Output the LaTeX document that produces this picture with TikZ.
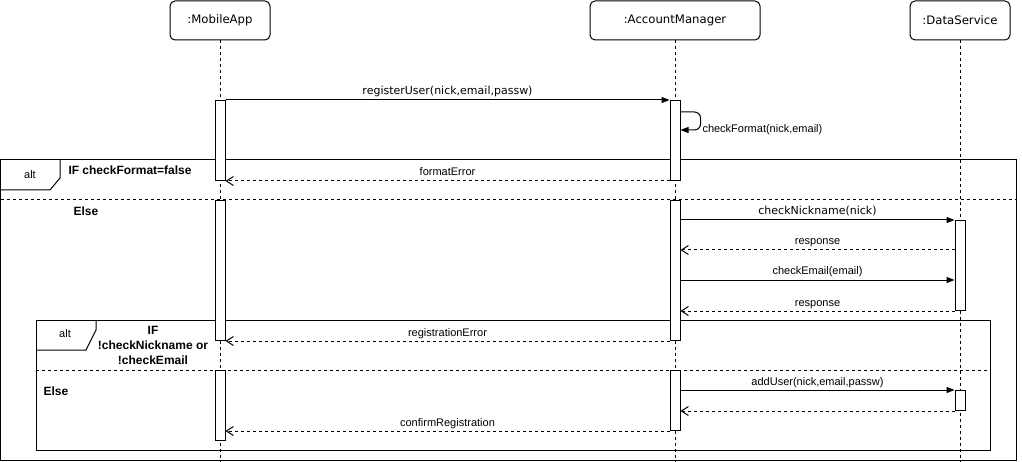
\documentclass[tikz,border=0pt]{standalone}
\usepackage{fontspec}
\setmainfont{Liberation Sans}
\newfontfamily\dejavu{DejaVu Sans}
\usetikzlibrary{arrows.meta}

\tikzset{
    participant/.style={draw, rounded corners=5pt, minimum height=39, inner sep=0pt,
        font=\dejavu\fontsize{11.7}{14}\selectfont},
    lifeline/.style={dash pattern=on 3pt off 3pt},
    activation/.style={draw, fill=white, minimum width=10, inner sep=0pt, anchor=north},
    call/.style={-{Triangle[length=8pt,width=6pt]}},
    reply/.style={dash pattern=on 3pt off 3pt, -{Straight Barb[length=7pt,width=9pt]}},
    msg/.style={font=\fontsize{11}{13}\selectfont, inner sep=2pt, text height=8pt, text depth=2.5pt},
    guard/.style={font=\bfseries\fontsize{12}{15}\selectfont, inner sep=0pt},
}

\begin{document}
\begin{tikzpicture}[x=1pt, y=-1pt, line width=1pt]
    \useasboundingbox (0,0) rectangle (1022,462);

    %Participants
    \node[participant, minimum width=100] at (220,20.5) (app)  {:MobileApp};
    \node[participant, minimum width=170] at (675,20.5) (mgr)  {:AccountManager};
    \node[participant, minimum width=100] at (960,20.5) (data) {:DataService};

    %Lifelines
    \foreach \p in {app,mgr,data}
        \draw[lifeline] (\p.south) -- (\p.south |- 0,462);

    %Frames
    \draw (0.5,160) rectangle (1016,460);
    \draw (0.5,190) -- (50,190) -- (60,178) -- (60,160);
    \node[msg] at (30,176) (alt1) {alt};
    \node[guard, anchor=west] at (68,170) (if1) {IF checkFormat=false};
    \draw[lifeline] (0.5,200) -- (1016,200);
    \node[guard, anchor=west] at (73,211) (else1) {Else};

    \draw (36,320) rectangle (990,450);
    \draw (36,350) -- (86,350) -- (96,330) -- (96,320);
    \node[msg] at (65,335) (alt2) {alt};
    \node[guard, align=center] at (153,345) (if2) {IF\\!checkNickname or\\!checkEmail};
    \draw[lifeline] (36,370) -- (990,370);
    \node[guard, anchor=west] at (43,391) (else2) {Else};

    %Activations
    \node[activation, minimum height=80]  at (220,100) (app1)  {};
    \node[activation, minimum height=140] at (220,200) (app2)  {};
    \node[activation, minimum height=70]  at (220,370) (app3)  {};
    \node[activation, minimum height=80]  at (675,100) (mgr1)  {};
    \node[activation, minimum height=140] at (675,200) (mgr2)  {};
    \node[activation, minimum height=60]  at (675,370) (mgr3)  {};
    \node[activation, minimum height=90]  at (960,220) (data1) {};
    \node[activation, minimum height=20]  at (960,390) (data2) {};

    %Messages
    \draw[call] (app1.north east) -- node[msg, above] {\dejavu registerUser(nick,email,passw)} (mgr1.north west);
    \draw[call, rounded corners=6pt] ([yshift=-12]mgr1.north east) -- ++(20,0) -- ++(0,18) -- ++(-20,0);
    \node[msg, anchor=west] at (700,130) (fmt) {checkFormat(nick,email)};
    \draw[reply] (mgr1.south west) -- node[msg, above] {formatError} (app1.south east);

    \draw[call] (mgr2.east |- data1.north) -- node[msg, above] {\dejavu checkNickname(nick)} (data1.north west);
    \draw[reply] (data1.west |- 0,250) -- node[msg, above] {response} (mgr2.east |- 0,250);
    \draw[call] (mgr2.east |- 0,280) -- node[msg, above] {checkEmail(email)} (data1.west |- 0,280);
    \draw[reply] (data1.south west) -- node[msg, above] {response} (mgr2.east |- data1.south);
    \draw[reply] (mgr2.south west) -- node[msg, above] {registrationError} (app2.south east);

    \draw[call] (mgr3.east |- data2.north) -- node[msg, above] {addUser(nick,email,passw)} (data2.north west);
    \draw[reply] (data2.south west) -- (mgr3.east |- data2.south);
    \draw[reply] (mgr3.south west) -- node[msg, above] {confirmRegistration} (app3.east |- mgr3.south);
\end{tikzpicture}
\end{document}
